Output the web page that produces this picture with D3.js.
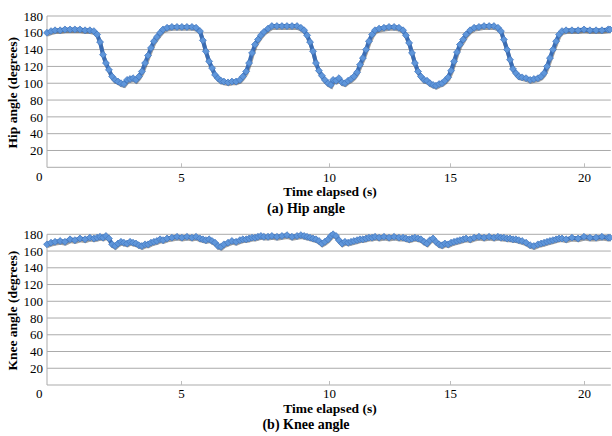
<!DOCTYPE html>
<html>
<head>
<meta charset="utf-8">
<script src="https://cdn.jsdelivr.net/npm/d3@7"></script>
<style>
  body { margin: 0; background: #fff; }
  svg text { font-family: "Liberation Serif", "DejaVu Serif", serif !important; }
</style>
</head>
<body>
<div id="chart"></div>
<script>
// time stamps (s), shared by both joints
var time = [0.00, 0.15, 0.30, 0.49, 0.67, 0.86, 1.04, 1.23, 1.42, 1.60, 1.75, 1.87, 1.98, 2.09, 2.20, 2.31, 2.43, 2.54, 2.65, 2.76,
  2.87, 2.99, 3.10, 3.21, 3.32, 3.43, 3.54, 3.66, 3.77, 3.88, 3.99, 4.10, 4.22, 4.33, 4.48, 4.66, 4.85, 5.03, 5.20, 5.37,
  5.51, 5.64, 5.74, 5.84, 5.95, 6.05, 6.15, 6.25, 6.35, 6.45, 6.59, 6.72, 6.86, 6.99, 7.09, 7.20, 7.30, 7.40, 7.50, 7.60,
  7.70, 7.80, 7.94, 8.07, 8.24, 8.41, 8.58, 8.75, 8.92, 9.05, 9.16, 9.26, 9.36, 9.46, 9.56, 9.66, 9.76, 9.86, 9.97, 10.08,
  10.17, 10.29, 10.41, 10.54, 10.66, 10.79, 10.91, 11.03, 11.16, 11.28, 11.40, 11.53, 11.65, 11.78, 11.90, 12.07, 12.27, 12.48, 12.69, 12.89,
  13.06, 13.18, 13.31, 13.43, 13.55, 13.68, 13.80, 13.93, 14.05, 14.17, 14.30, 14.42, 14.55, 14.67, 14.79, 14.92, 15.04, 15.15, 15.26, 15.37,
  15.49, 15.60, 15.75, 15.90, 16.08, 16.27, 16.46, 16.64, 16.79, 16.90, 17.01, 17.13, 17.24, 17.35, 17.46, 17.57, 17.69, 17.84, 17.99, 18.13,
  18.28, 18.40, 18.51, 18.62, 18.73, 18.84, 18.96, 19.07, 19.18, 19.33, 19.55, 19.78, 20.00, 20.22, 20.45, 20.67, 20.90, 20.97];

// hip angle (degrees)
var hipAngle = [160, 162, 163, 163, 164, 164, 164, 164, 163, 163, 162, 158, 149, 134, 124, 116, 108, 104, 102, 100,
  99, 104, 105, 106, 104, 108, 114, 124, 133, 142, 150, 155, 160, 164, 166, 167, 167, 167, 167, 167,
  166, 162, 151, 138, 126, 118, 110, 106, 103, 102, 101, 102, 102, 104, 108, 114, 124, 136, 146, 152,
  157, 161, 165, 168, 168, 168, 168, 168, 168, 166, 163, 157, 149, 138, 124, 115, 109, 104, 100, 98,
  104, 103, 106, 101, 100, 103, 105, 108, 113, 122, 130, 140, 150, 158, 163, 165, 166, 167, 167, 166,
  163, 157, 148, 136, 124, 114, 108, 104, 103, 100, 98, 97, 99, 100, 103, 107, 115, 126, 137, 146,
  152, 158, 163, 166, 167, 168, 168, 168, 166, 162, 152, 140, 128, 117, 112, 108, 107, 106, 104, 105,
  106, 108, 112, 120, 130, 140, 150, 158, 162, 163, 163, 163, 164, 163, 163, 163, 164, 164];

// knee angle (degrees)
var kneeAngle = [168, 170, 171, 172, 171, 174, 173, 175, 174, 176, 175, 176, 177, 176, 178, 175, 168, 166, 169, 171,
  170, 169, 171, 170, 169, 167, 166, 168, 168, 170, 171, 172, 174, 173, 175, 176, 177, 176, 177, 176,
  177, 175, 174, 173, 174, 172, 170, 166, 165, 168, 170, 172, 171, 173, 174, 174, 175, 176, 176, 177,
  178, 177, 177, 178, 177, 178, 179, 177, 178, 179, 178, 177, 176, 175, 174, 172, 169, 171, 174, 178,
  180, 178, 173, 169, 171, 170, 171, 172, 173, 174, 174, 175, 176, 176, 177, 176, 177, 176, 177, 176,
  176, 175, 174, 175, 176, 175, 174, 171, 169, 173, 175, 171, 168, 167, 169, 168, 170, 171, 172, 173,
  174, 175, 174, 176, 177, 176, 177, 176, 177, 176, 176, 175, 175, 174, 174, 173, 172, 170, 167, 166,
  168, 169, 170, 171, 172, 173, 174, 175, 175, 174, 176, 175, 177, 176, 176, 177, 176, 176];

var yTicks = [20, 40, 60, 80, 100, 120, 140, 160, 180];
var xTicks = [5, 10, 15, 20];

var width = 612, height = 436;
var serif = "'Liberation Serif', 'DejaVu Serif', serif";
var svg = d3.select("#chart").append("svg")
  .attr("width", width)
  .attr("height", height);

// category-style axis in the original: tick spacing is not uniform
var x = d3.scaleLinear()
  .domain([0, 5, 10, 15, 20, 21])
  .range([47, 181, 329, 450, 584, 610.8]);

function drawPanel(values, top, bottom, yTitle, caption, tickPad, titleGap, captionGap) {
  var y = d3.scaleLinear().domain([0, 180]).range([bottom, top]);
  var g = svg.append("g");

  // gridlines
  g.selectAll(".grid")
    .data([0].concat(yTicks))
    .enter().append("line")
    .attr("x1", x(0)).attr("x2", x(21))
    .attr("y1", function (d) { return y(d); })
    .attr("y2", function (d) { return y(d); })
    .attr("stroke", "#ababab")
    .attr("stroke-width", 1);

  // left axis line
  g.append("line")
    .attr("x1", x(0)).attr("x2", x(0))
    .attr("y1", y(180)).attr("y2", y(0))
    .attr("stroke", "#ababab");

  // y axis labels
  var yAxis = g.append("g")
    .attr("transform", "translate(" + x(0) + ",0)")
    .call(d3.axisLeft(y).tickValues(yTicks).tickSize(0).tickPadding(4));
  yAxis.select(".domain").remove();
  yAxis.attr("font-family", null);
  yAxis.selectAll("text").attr("font-size", 13).style("font-family", serif).attr("fill", "#000");

  // x axis
  var xAxis = g.append("g")
    .attr("transform", "translate(0," + y(0) + ")")
    .call(d3.axisBottom(x).tickValues(xTicks).tickSize(-4).tickPadding(tickPad).tickFormat(d3.format("d")));
  xAxis.select(".domain").remove();
  xAxis.attr("font-family", null);
  xAxis.selectAll("line").attr("stroke", "#bdbdbd");
  xAxis.selectAll("text").attr("font-size", 13).style("font-family", serif).attr("fill", "#000");

  // the "0" label sits under the corner
  g.append("text")
    .attr("x", x(0) - 4.5)
    .attr("y", y(0) + tickPad + 8.5)
    .attr("text-anchor", "end")
    .attr("font-size", 13)
    .style("font-family", serif)
    .text("0");

  var pts = time.map(function (t, i) { return [t, values[i]]; });
  var line = d3.line()
    .x(function (d) { return x(d[0]); })
    .y(function (d) { return y(d[1]); });

  // shadow + line
  g.append("path")
    .datum(pts)
    .attr("d", line)
    .attr("transform", "translate(0.5,1.8)")
    .attr("fill", "none")
    .attr("stroke", "rgba(40,40,40,0.45)")
    .attr("stroke-width", 4);
  g.append("path")
    .datum(pts)
    .attr("d", line)
    .attr("fill", "none")
    .attr("stroke", "#3a6cb3")
    .attr("stroke-width", 4)
    .attr("stroke-linejoin", "round");

  // diamond markers
  var sym = d3.symbol().type(d3.symbolSquare).size(24);
  g.selectAll(".pt")
    .data(pts)
    .enter().append("path")
    .attr("d", sym)
    .attr("transform", function (d) { return "translate(" + x(d[0]) + "," + y(d[1]) + ") rotate(45)"; })
    .attr("fill", "#5f96da")
    .attr("stroke", "#4478c0")
    .attr("stroke-width", 0.7);

  // titles
  g.append("text")
    .attr("x", 330).attr("y", y(0) + titleGap)
    .attr("text-anchor", "middle")
    .attr("font-size", 13.5).attr("font-weight", "bold")
    .style("font-family", serif)
    .text("Time elapsed (s)");
  g.append("text")
    .attr("x", 306).attr("y", y(0) + captionGap)
    .attr("text-anchor", "middle")
    .attr("font-size", 14).attr("font-weight", "bold")
    .style("font-family", serif)
    .text(caption);
  g.append("text")
    .attr("transform", "translate(17," + ((top + bottom) / 2 + 1) + ") rotate(-90)")
    .attr("text-anchor", "middle")
    .attr("font-size", 13.5).attr("font-weight", "bold")
    .style("font-family", serif)
    .text(yTitle);
}

drawPanel(hipAngle, 16, 167.3, "Hip angle (degrees)", "(a) Hip angle", 5, 28.5, 46);
drawPanel(kneeAngle, 234.3, 385, "Knee angle (degrees)", "(b) Knee angle", 4, 27.5, 43.5);
</script>
</body>
</html>
